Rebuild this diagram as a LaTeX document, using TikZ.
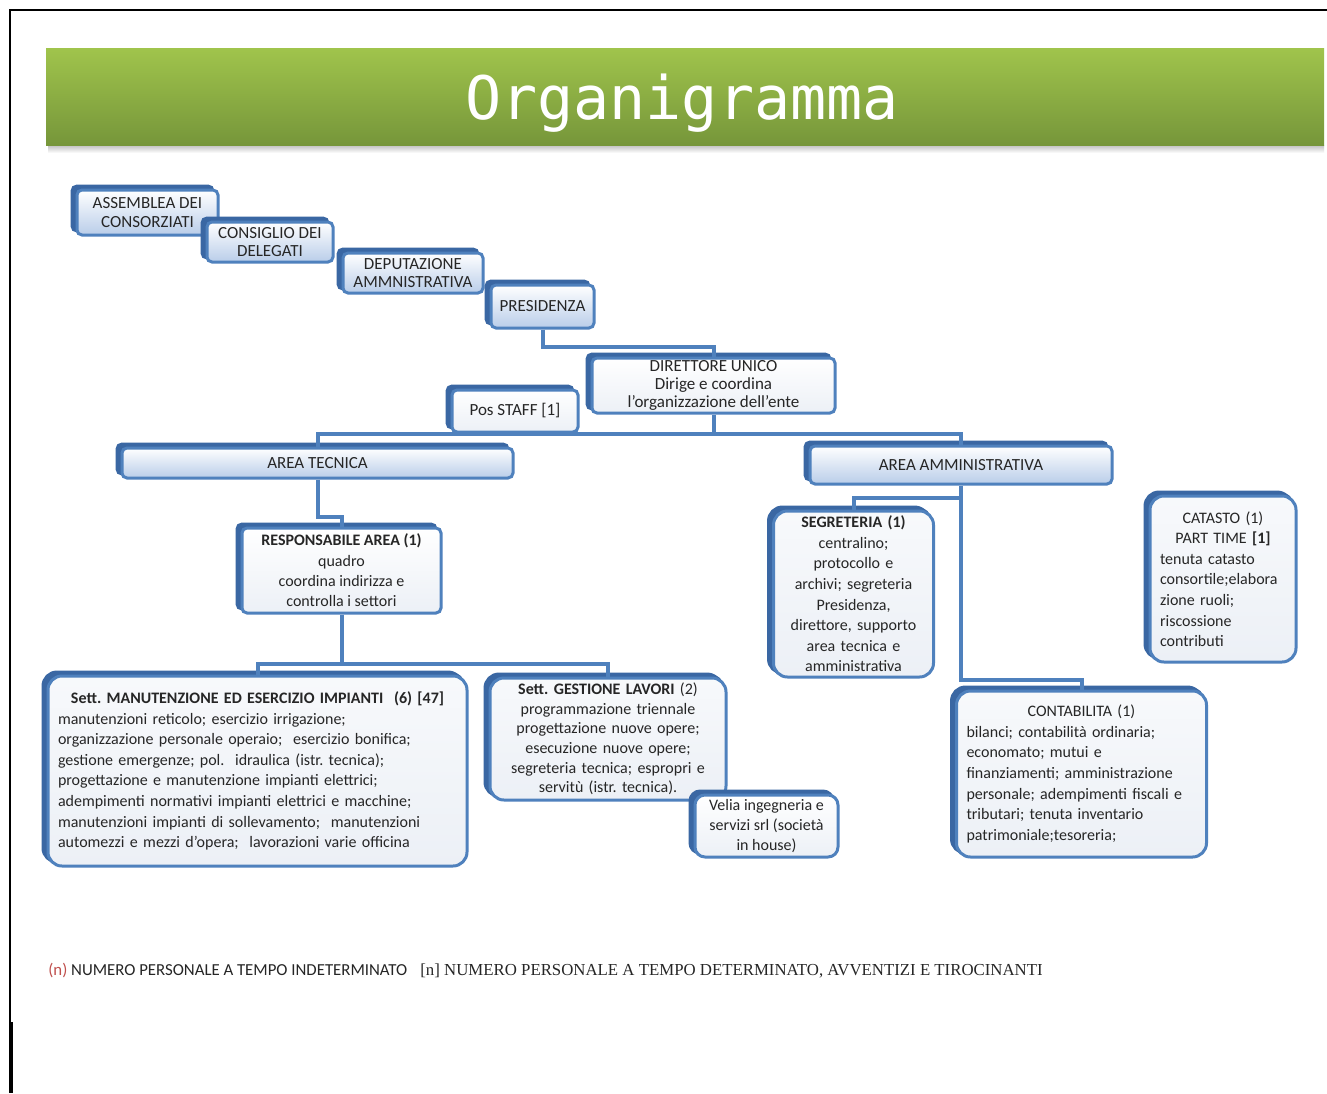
\documentclass[tikz,border=0pt]{standalone}
\usepackage{fontspec}
\setmainfont{Carlito}
\newfontfamily\titlefont{DejaVu Sans Mono}
\newfontfamily\timesfont{Liberation Serif}
\usetikzlibrary{shadows}
\frenchspacing

\definecolor{boxblue}{HTML}{4F81BD}
\definecolor{boxdark}{HTML}{3A67A3}
\definecolor{boxlight}{HTML}{ECF0F6}
\definecolor{boxmid}{HTML}{B9CDE9}
\definecolor{txtgray}{HTML}{262626}
\definecolor{bartop}{HTML}{A0C44C}
\definecolor{barbot}{HTML}{76963A}
\definecolor{notered}{HTML}{C0504D}

\tikzset{
  orgbox/.style={draw=boxblue, line width=1.5pt, rounded corners=2.5pt,
    top color=white, bottom color=boxmid, text=txtgray, align=center,
    inner sep=1pt, font=\fontsize{8.5}{9.2}\selectfont,
    copy shadow={shadow xshift=-2.5pt, shadow yshift=2pt, fill=boxdark, draw=boxdark}},
  lightbox/.style={orgbox, top color=white, bottom color=boxlight},
  bigbox/.style={orgbox, rounded corners=7pt, top color=boxlight!40!white,
    bottom color=boxlight, inner xsep=5pt, font=\fontsize{8}{10.3}\selectfont,
    copy shadow={shadow xshift=-1.5pt, shadow yshift=1.5pt, fill=boxdark, draw=boxdark}},
  conn/.style={draw=boxblue, line width=2pt},
  titletext/.style={font=\titlefont\fontsize{30}{30}\selectfont, text=white},
  notetext/.style={font=\fontsize{8.4}{9}\selectfont, text=txtgray, inner sep=0pt}
}

\newcommand{\midline}[1]{\hspace*{\fill}#1\hspace*{\fill}\null}

\begin{document}
\begin{tikzpicture}[x=0.5pt, y=-0.5pt]
  \useasboundingbox (0,0) rectangle (1327,1093);
  \fill[white] (0,0) rectangle (1327,1093);
  \draw[line width=0.8pt] (1327,10) -- (10,10) -- (10,1093);
  \draw[line width=1.6pt] (11,1022) -- (11,1093);

  % title bar
  \shade[top color=black!25, bottom color=white] (48,145) rectangle (1324,153);
  \shade[top color=bartop, bottom color=barbot] (46,48) rectangle (1324,145);
  \node[titletext, anchor=base] (title) at (682,119) {Organigramma};

  % governing bodies
  \node[orgbox, minimum width=70.5pt, minimum height=22.5pt] (ass)  at (147.5,212.5) {ASSEMBLEA DEI\\CONSORZIATI};
  \node[orgbox, minimum width=63pt,   minimum height=20pt]   (cons) at (270,242)     {CONSIGLIO DEI\\DELEGATI};
  \node[orgbox, minimum width=70pt,   minimum height=20pt]   (dep)  at (413,273)     {DEPUTAZIONE\\AMMNISTRATIVA};
  \node[orgbox, minimum width=51.5pt, minimum height=21.5pt] (pres) at (542.5,306.5) {PRESIDENZA};

  \node[lightbox, minimum width=121.5pt, minimum height=27.5pt] (dir) at (713.5,385.5)
    {DIRETTORE UNICO\\Dirige e coordina\\l’organizzazione dell’ente};
  \node[lightbox, minimum width=63pt, minimum height=21pt] (staff) at (515,411) {Pos STAFF [1]};

  % areas
  \node[orgbox, minimum width=195.5pt, minimum height=15pt] (at) at (317.5,463) {AREA TECNICA};
  \node[orgbox, minimum width=151pt,   minimum height=19pt] (aa) at (961,465)   {AREA AMMINISTRATIVA};

  \node[lightbox, minimum width=99.5pt, minimum height=42.5pt, font=\fontsize{8}{10.2}\selectfont] (resp) at (341.5,570.5)
    {\textbf{RESPONSABILE AREA (1)}\\quadro\\coordina indirizza e\\controlla i settori};

  \node[bigbox, text width=199.5pt, minimum height=95pt, align=left] (manut) at (257.5,771)
    {\midline{\textbf{Sett. MANUTENZIONE ED ESERCIZIO IMPIANTI\ \ (6) [47]}}\\
     manutenzioni reticolo; esercizio irrigazione;\\
     organizzazione personale operaio;\ \ esercizio bonifica;\\
     gestione emergenze; pol.\ \ idraulica (istr. tecnica);\\
     progettazione e manutenzione impianti elettrici;\\
     adempimenti normativi impianti elettrici e macchine;\\
     manutenzioni impianti di sollevamento;\ \ manutenzioni\\
     automezzi e mezzi d’opera;\ \ lavorazioni varie officina};

  \node[bigbox, text width=108pt, minimum height=61pt, font=\fontsize{8}{9.8}\selectfont] (gest) at (608,739)
    {\textbf{Sett. GESTIONE LAVORI} (2)\\programmazione triennale\\progettazione nuove\ opere;\\esecuzione nuove\ opere;\\segreteria tecnica; espropri\ e\\servitù (istr. tecnica).};

  \node[lightbox, rounded corners=5pt, minimum width=71.5pt, minimum height=31pt, font=\fontsize{8}{9.8}\selectfont] (velia) at (766.5,826)
    {Velia ingegneria e\\servizi srl (società\\in house)};

  \node[bigbox, text width=70pt, minimum height=83pt] (segr) at (853.5,594)
    {\textbf{SEGRETERIA (1)}\\centralino;\\protocollo e\\archivi; segreteria\\Presidenza,\\direttore, supporto\\area tecnica e\\amministrativa};

  \node[bigbox, text width=63pt, minimum height=83pt, align=left] (catasto) at (1223,579)
    {\midline{CATASTO (1)}\\\midline{PART TIME \textbf{[1]}}\\tenuta catasto\\consortile;elabora\\zione ruoli;\\riscossione\\contributi};

  \node[bigbox, text width=115pt, minimum height=83pt, align=left] (contab) at (1081.5,774)
    {\midline{CONTABILITA (1)}\\bilanci; contabilità ordinaria;\\economato; mutui e\\finanziamenti; amministrazione\\personale; adempimenti fiscali e\\tributari; tenuta inventario\\patrimoniale;tesoreria;};

  % connectors
  \draw[conn] (pres.south) -- ++(0,17) -| (dir.north);
  \coordinate (hub) at (dir.south |- 0,434);
  \draw[conn] (dir.south) -- (hub);
  \draw[conn] (at.north) |- (hub) -| (aa.north);
  \draw[conn] (at.south) -- ++(0,37) -| (resp.north);
  \coordinate (split) at (resp.south |- 0,664);
  \draw[conn] (resp.south) -- (split);
  \draw[conn] (manut.north) |- (split) -| (gest.north);
  \coordinate (spine) at (aa.south |- 0,498);
  \coordinate (aafoot) at (aa.south |- 0,680);
  \draw[conn] (aa.south) -- (aafoot) -| (contab.north);
  \draw[conn] (segr.north) |- (spine);

  % legend
  \node[notetext, anchor=base west] (note1) at (48,975)
    {\textcolor{notered}{(n)} NUMERO PERSONALE A TEMPO INDETERMINATO};
  \node[notetext, font=\timesfont\fontsize{8.4}{9}\selectfont, anchor=base west] (note2) at (420,975)
    {[n] NUMERO PERSONALE A TEMPO DETERMINATO, AVVENTIZI E TIROCINANTI};
\end{tikzpicture}
\end{document}
